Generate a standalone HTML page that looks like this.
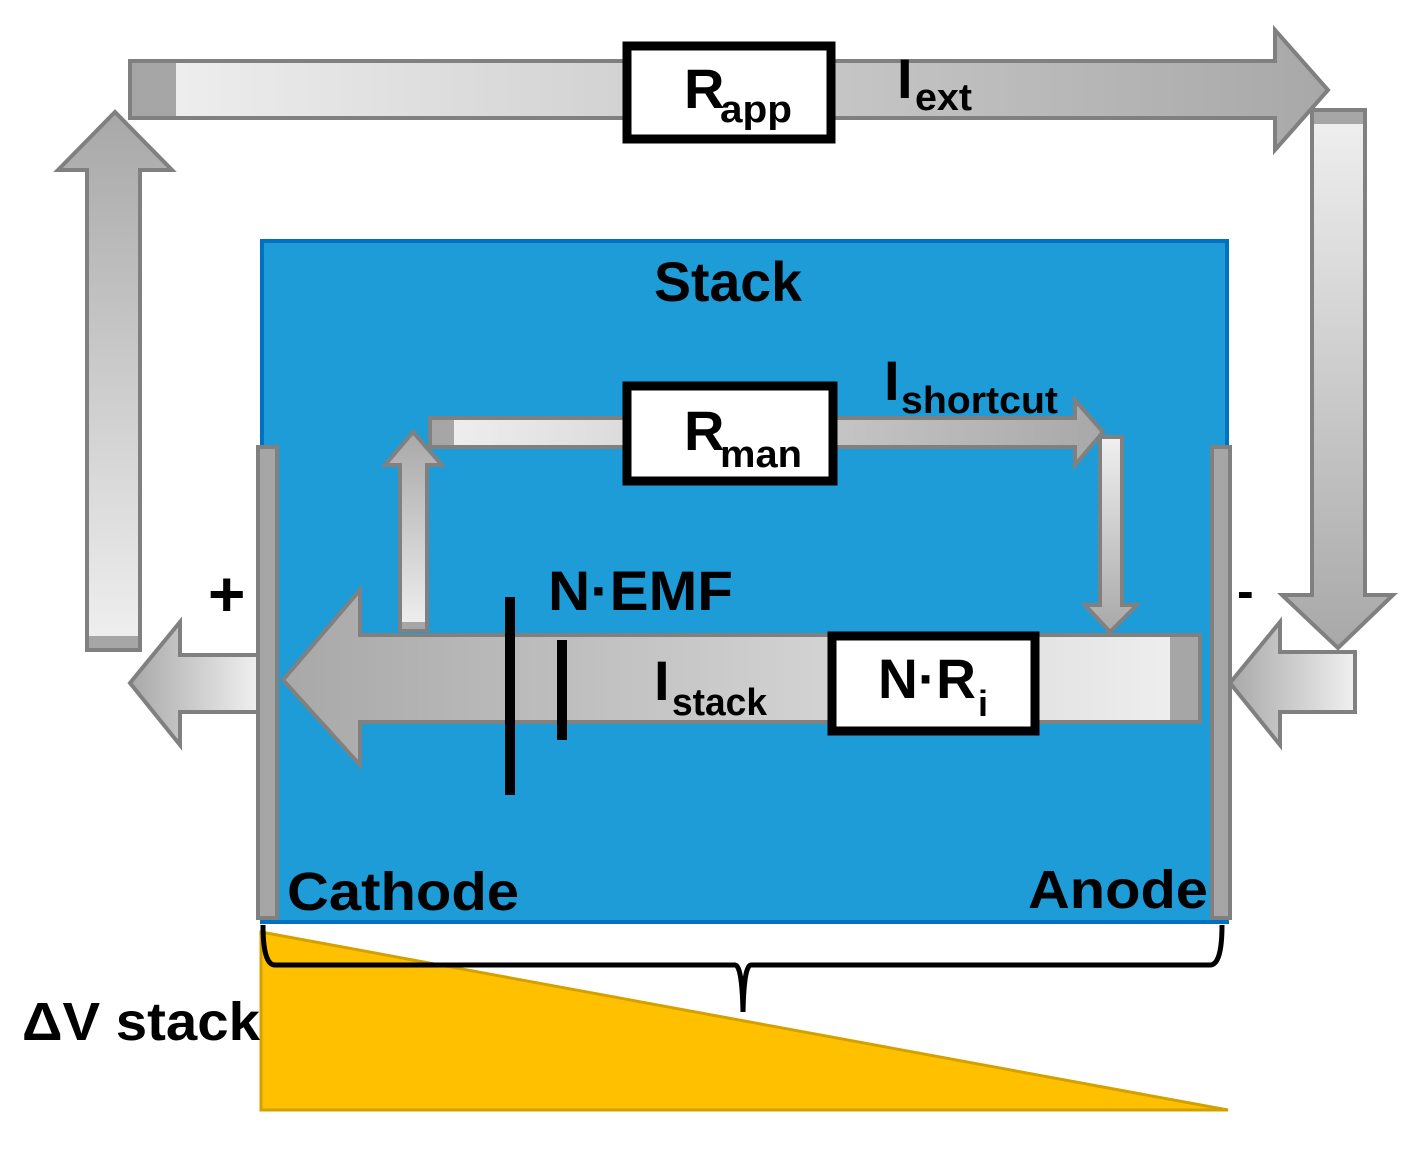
<!DOCTYPE html>
<html><head><meta charset="utf-8"><style>html,body{margin:0;padding:0;background:#fff}svg{display:block}text{font-family:"Liberation Sans",sans-serif;font-weight:bold;fill:#000}</style></head>
<body>
<svg width="1426" height="1157" viewBox="0 0 1426 1157" xmlns="http://www.w3.org/2000/svg">
<defs>
<linearGradient id="gh" x1="0" x2="1" y1="0" y2="0"><stop offset="0" stop-color="#f0f0f0"/><stop offset="1" stop-color="#a8a8a8"/></linearGradient>
<linearGradient id="ghr" x1="0" x2="1" y1="0" y2="0"><stop offset="0" stop-color="#a8a8a8"/><stop offset="1" stop-color="#f0f0f0"/></linearGradient>
<linearGradient id="gv" x1="0" x2="0" y1="0" y2="1"><stop offset="0" stop-color="#f0f0f0"/><stop offset="1" stop-color="#a8a8a8"/></linearGradient>
<linearGradient id="gvu" x1="0" x2="0" y1="0" y2="1"><stop offset="0" stop-color="#a8a8a8"/><stop offset="1" stop-color="#f0f0f0"/></linearGradient>
</defs>
<g stroke="#808080" stroke-width="4">
<path d="M130 61H1275V30L1328 90L1275 150V118H130Z" fill="url(#gh)"/>
<rect x="132" y="63" width="44" height="53" fill="#a6a6a6" stroke="none"/>
<path d="M1312 110H1365V595H1393L1338 648L1282 595H1312Z" fill="url(#gv)"/>
<rect x="1314" y="112" width="49" height="12" fill="#a6a6a6" stroke="none"/>
<path d="M87 650V170H58L115 112L172 170H140V650Z" fill="url(#gvu)"/>
<rect x="89" y="636" width="49" height="12" fill="#a6a6a6" stroke="none"/>
</g>
<rect x="262" y="241" width="965" height="681" fill="#1e9cd7" stroke="#0070c0" stroke-width="4"/>
<g stroke="#808080" stroke-width="4">
<path d="M180 655H258V712H180V745L130 683L180 622Z" fill="url(#ghr)"/>
<path d="M1355 652V712H1280V745L1230 683L1280 622V652Z" fill="url(#ghr)"/>
<path d="M1200 635H360V590L283 680L360 765V722H1200Z" fill="url(#ghr)"/>
<rect x="1170" y="637" width="28" height="83" fill="#a6a6a6" stroke="none"/>
<path d="M430 418H1075V400L1103 432L1075 465V447H430Z" fill="url(#gh)"/>
<rect x="432" y="420" width="22" height="25" fill="#a6a6a6" stroke="none"/>
<path d="M1100 437H1122V605H1137L1110 632L1085 605H1100Z" fill="url(#gv)"/>
<path d="M400 630V465H385L413 432L442 465H427V630Z" fill="url(#gvu)"/>
<rect x="402" y="622" width="23" height="7" fill="#a6a6a6" stroke="none"/>
<rect x="258" y="447" width="19" height="471" fill="#a6a6a6"/>
<rect x="1212" y="447" width="18" height="471" fill="#a6a6a6"/>
</g>
<g fill="#fff" stroke="#000" stroke-width="9">
<rect x="627" y="46" width="204" height="93"/>
<rect x="627" y="386" width="206" height="95"/>
<rect x="832" y="636" width="203" height="95"/>
</g>
<rect x="505" y="597" width="10" height="198" fill="#000"/>
<rect x="557" y="640" width="10" height="100" fill="#000"/>
<path d="M261 932L1228 1110H261Z" fill="#ffc000" stroke="#d4a000" stroke-width="3"/>
<path d="M263 925Q263 965 275 965H735Q742 965 743 1012Q744 965 751 965H1210Q1222 965 1222 925" fill="none" stroke="#000" stroke-width="5"/>
<text x="654" y="301" font-size="56" textLength="148" lengthAdjust="spacingAndGlyphs">Stack</text>
<text x="287" y="910" font-size="54" textLength="232" lengthAdjust="spacingAndGlyphs">Cathode</text>
<text x="1028" y="908" font-size="54" textLength="180" lengthAdjust="spacingAndGlyphs">Anode</text>
<text x="208" y="616" font-size="64">+</text>
<text x="1237" y="608" font-size="50">-</text>
<text x="548" y="610" font-size="56" textLength="185" lengthAdjust="spacingAndGlyphs">N·EMF</text>
<text x="22" y="1040" font-size="54" textLength="238" lengthAdjust="spacingAndGlyphs">ΔV stack</text>
<text x="684" y="108" font-size="56">R</text><text x="720" y="122" font-size="38" textLength="72" lengthAdjust="spacingAndGlyphs">app</text>
<text x="684" y="450" font-size="56">R</text><text x="720" y="467" font-size="38" textLength="82" lengthAdjust="spacingAndGlyphs">man</text>
<text x="878" y="698" font-size="56" textLength="98" lengthAdjust="spacingAndGlyphs">N·R</text><text x="978" y="716" font-size="36">i</text>
<text x="897" y="98" font-size="56">I</text><text x="915" y="110" font-size="38" textLength="57" lengthAdjust="spacingAndGlyphs">ext</text>
<text x="884" y="400" font-size="56">I</text><text x="901" y="413" font-size="38" textLength="157" lengthAdjust="spacingAndGlyphs">shortcut</text>
<text x="654" y="700" font-size="56">I</text><text x="672" y="715" font-size="38" textLength="95" lengthAdjust="spacingAndGlyphs">stack</text>
</svg>
</body></html>
